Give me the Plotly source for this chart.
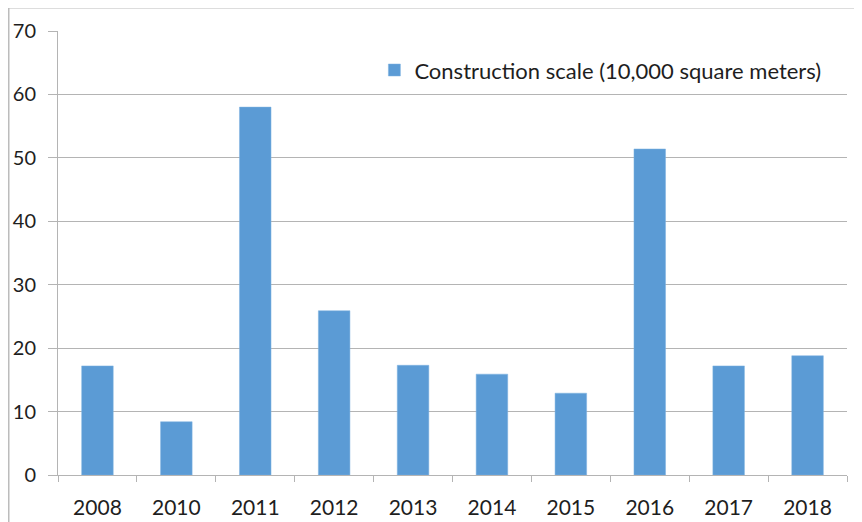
import plotly.graph_objects as go

years = ["2008", "2010", "2011", "2012", "2013", "2014", "2015", "2016", "2017", "2018"]
construction_scale = [17.2, 8.4, 58.0, 25.9, 17.3, 15.9, 12.9, 51.4, 17.2, 18.8]
series_name = "Construction scale (10,000 square meters)"

GRID = "#b4b4b4"
FONT = "Lato, Carlito, Calibri, sans-serif"
TXT = "#1e1e1e"
PW = 854 - 50 - 15  # plot width in px

fig = go.Figure()
fig.add_trace(go.Bar(
    x=years, y=construction_scale, name=series_name,
    marker=dict(color="#5B9BD5", line=dict(color="#7fb2e0", width=0.5)),
    width=0.4, showlegend=True,
))

# page body adds an 8px margin, so the figure is sized/placed to compensate
fig.update_layout(
    width=854, height=514,
    margin=dict(l=50, r=15, t=23, b=47),
    paper_bgcolor="white", plot_bgcolor="white",
    font=dict(family=FONT, size=20, color=TXT),
    showlegend=True,
    legend=dict(x=0.401, y=0.959, xanchor="left", yanchor="top",
                bgcolor="rgba(0,0,0,0)", font=dict(size=22, color=TXT),
                itemwidth=30),
    xaxis=dict(type="category", showgrid=False, showline=True, linecolor=GRID, linewidth=1,
               ticks="outside", tickson="boundaries", ticklen=6, tickcolor=GRID,
               automargin=False, ticklabelstandoff=14,
               tickfont=dict(size=21, color=TXT)),
    yaxis=dict(range=[0, 70], dtick=10, showgrid=True, gridcolor=GRID, gridwidth=1,
               showline=True, linecolor=GRID, linewidth=1, zeroline=False,
               ticks="outside", ticklen=9, tickcolor=GRID,
               automargin=False, ticklabelstandoff=8,
               tickfont=dict(size=20, color=TXT)),
    bargap=0.6,
)

# outer frame (top and left edges visible)
fig.add_shape(type="line", xref="paper", yref="paper",
              x0=(0 - 50) / PW, x1=(870 - 50) / PW,
              y0=(467 + 0.5) / 444, y1=(467 + 0.5) / 444,
              line=dict(color="#bcbcbc", width=2))
fig.add_shape(type="line", xref="paper", yref="paper",
              x0=(0.5 - 50) / PW, x1=(0.5 - 50) / PW,
              y0=(467 + 1) / 444, y1=(467 - 530) / 444,
              line=dict(color="#bcbcbc", width=2))

fig.write_html("out.html")
